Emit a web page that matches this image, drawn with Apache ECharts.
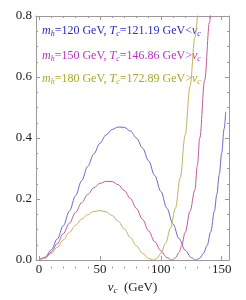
<!DOCTYPE html>
<html><head><meta charset="utf-8">
<script src="https://cdn.jsdelivr.net/npm/echarts@6/dist/echarts.min.js"></script>
<style>html,body{margin:0;padding:0;background:#fff}#c{width:246px;height:300px}</style>
</head><body><div id="c"></div>
<script>
// ---- data ----
const xMajorTicks = [0, 50, 100, 150];
const xMinorTicks = [10, 20, 30, 40, 60, 70, 80, 90, 110, 120, 130, 140];
const yTickLabels = ['0.0', '0.2', '0.4', '0.6', '0.8'];

// m_h = 120 GeV (blue)
const curve120 = [[0,0],[5,0.009],[10,0.033],[15,0.069],[20,0.113],[25,0.161],[30,0.211],[35,0.260],[40,0.307],[45,0.348],[50,0.383],[55,0.410],[60,0.428],[65,0.436],[70,0.435],[75,0.423],[80,0.400],[85,0.367],[90,0.325],[95,0.277],[100,0.225],[105,0.170],[110,0.118],[115,0.070],[120,0.032],[125,0.008],[128.5,0],[132,0.006],[135,0.022],[138,0.047],[141,0.092],[144,0.16],[146,0.215],[148,0.28],[150,0.35],[152,0.43],[153.3,0.486]];
// m_h = 150 GeV (magenta)
const curve150 = [[0,0],[5,0.007],[10,0.026],[15,0.054],[20,0.087],[25,0.121],[30,0.156],[35,0.188],[40,0.215],[45,0.237],[50,0.251],[55,0.258],[60,0.257],[65,0.247],[70,0.228],[75,0.202],[80,0.169],[85,0.133],[90,0.095],[95,0.060],[100,0.030],[105,0.008],[109,0],[112,0.007],[115,0.025],[117,0.045],[120,0.09],[124,0.16],[128,0.23],[130,0.31],[132,0.40],[136,0.59],[140,0.78],[142,0.87]];
// m_h = 180 GeV (olive)
const curve180 = [[0,0],[5,0.006],[10,0.021],[15,0.042],[20,0.066],[25,0.091],[30,0.114],[35,0.134],[40,0.149],[45,0.159],[50,0.162],[55,0.158],[60,0.146],[65,0.127],[70,0.102],[75,0.074],[80,0.046],[85,0.022],[90,0.005],[94,0],[97,0.006],[100,0.022],[104,0.056],[108,0.105],[112,0.17],[116,0.27],[120,0.41],[124,0.57],[128,0.73],[131,0.85]];

const legendLines = [
  '{i|m}{s|h}{n|=120 GeV, }{i|T}{s|c}{n|=121.19 GeV<}{i|v}{s|c}',
  '{i|m}{s|h}{n|=150 GeV, }{i|T}{s|c}{n|=146.86 GeV>}{i|v}{s|c}',
  '{i|m}{s|h}{n|=180 GeV, }{i|T}{s|c}{n|=172.89 GeV>}{i|v}{s|c}'
];
const legendColors = ['#2c2cc8', '#c030c0', '#a8a828'];
const lineColors = ['#6a6ac8', '#c25a98', '#c4b060'];

// ---- chart ----
const SERIF = '"Liberation Serif","DejaVu Serif",serif';
const FRAME = '#9a9a9a';
function richFor(color, size) {
  return {
    n: {fontFamily: SERIF, fontSize: size, color: color, fill: color},
    i: {fontFamily: SERIF, fontSize: size, fontStyle: 'italic', color: color, fill: color},
    s: {fontFamily: SERIF, fontSize: Math.round(size * 0.7), fontStyle: 'italic', color: color, fill: color, padding: [6, 0, 0, 0]}
  };
}
const XMIN = -2.5, XMAX = 156;
const GRID = {left: 36, right: 17, top: 16, bottom: 31.5, containLabel: false};
function xAx(pos, grid, major, showLabel) {
  return {
    type: 'value', position: pos, min: XMIN, max: XMAX, gridIndex: grid,
    splitLine: {show: false},
    axisLine: {show: major, onZero: false, lineStyle: {color: FRAME, width: 1}},
    axisTick: {show: true, inside: true, length: major ? 4 : 2, customValues: major ? xMajorTicks : xMinorTicks, lineStyle: {color: FRAME}},
    axisLabel: {show: showLabel, customValues: xMajorTicks, margin: 3, fontFamily: SERIF, fontSize: 13, color: '#222',
      formatter: v => String(v)},
    name: showLabel ? '{i|v}{s|c}{n|  (GeV)}' : '',
    nameLocation: 'middle', nameGap: 20,
    nameTextStyle: {rich: richFor('#222', 13)}
  };
}
function yAx(pos, grid, show, showLabel) {
  return {
    type: 'value', position: pos, min: 0, max: 0.8, interval: 0.2, gridIndex: grid, show: show,
    splitLine: {show: false},
    axisLine: {show: true, onZero: false, lineStyle: {color: FRAME, width: 1}},
    axisTick: {show: true, inside: true, length: 4, lineStyle: {color: FRAME}},
    minorTick: {show: true, splitNumber: 4, length: 2, lineStyle: {color: FRAME}},
    axisLabel: {show: showLabel, margin: 4, fontFamily: SERIF, fontSize: 13, color: '#222',
      formatter: (v) => yTickLabels[Math.round(v / 0.2)]}
  };
}
function lineSeries(data, color) {
  return {
    type: 'line', data: data, xAxisIndex: 0, yAxisIndex: 0,
    showSymbol: false, symbol: 'none', smooth: 0.35, smoothMonotone: 'x',
    clip: true, silent: true,
    lineStyle: {color: color, width: 1}
  };
}
const chart = echarts.init(document.getElementById('c'), null, {renderer: 'canvas'});
chart.setOption({
  animation: false,
  backgroundColor: '#fff',
  grid: [GRID, Object.assign({}, GRID)],
  xAxis: [xAx('bottom', 0, true, true), xAx('top', 0, true, false), xAx('bottom', 1, false, false), xAx('top', 1, false, false)],
  yAxis: [yAx('left', 0, true, true), yAx('right', 0, true, false), yAx('left', 1, false, false)],
  series: [
    lineSeries(curve120, lineColors[0]),
    lineSeries(curve150, lineColors[1]),
    lineSeries(curve180, lineColors[2])
  ],
  graphic: legendLines.map((t, k) => ({
    type: 'text', left: 42, top: [25, 50, 73][k], silent: true,
    style: {text: t, fill: legendColors[k], rich: richFor(legendColors[k], 12)}
  }))
});
</script>
</body></html>
